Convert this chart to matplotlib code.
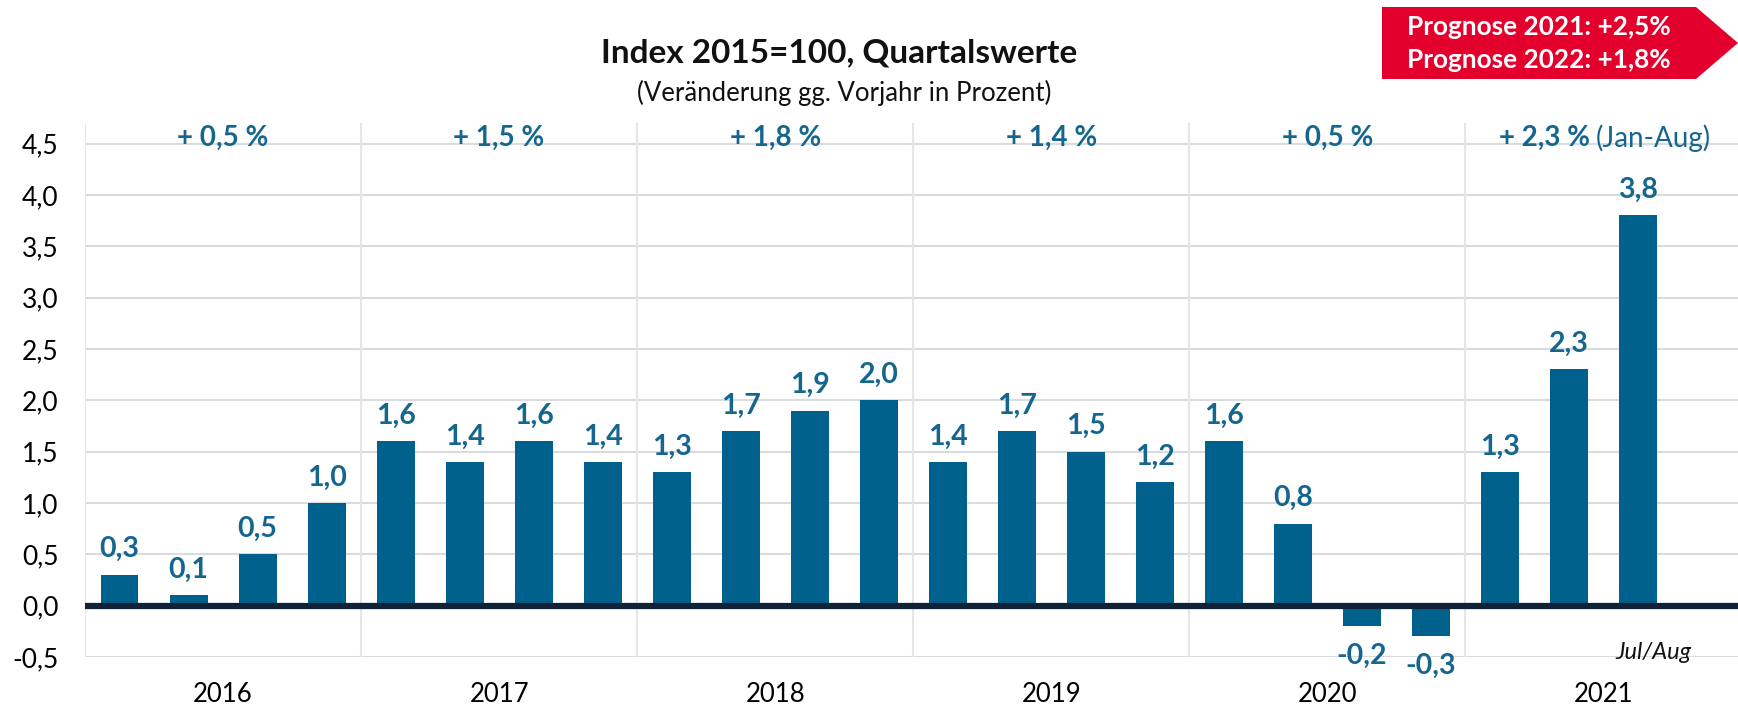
import matplotlib.pyplot as plt
from matplotlib.patches import Polygon
from matplotlib.transforms import offset_copy, blended_transform_factory
import numpy as np

plt.rcParams['font.family'] = ['Lato', 'DejaVu Sans']

# Daten
years = ['2016', '2017', '2018', '2019', '2020', '2021']
quarterly = [
    [0.3, 0.1, 0.5, 1.0],
    [1.6, 1.4, 1.6, 1.4],
    [1.3, 1.7, 1.9, 2.0],
    [1.4, 1.7, 1.5, 1.2],
    [1.6, 0.8, -0.2, -0.3],
    [1.3, 2.3, 3.8],
]
annual = ['+ 0,5 %', '+ 1,5 %', '+ 1,8 %', '+ 1,4 %', '+ 0,5 %', '+ 2,3 %']
annual_note = '(Jan-Aug)'
yticks = [-0.5, 0.0, 0.5, 1.0, 1.5, 2.0, 2.5, 3.0, 3.5, 4.0, 4.5]
forecast = ['Prognose 2021: +2,5%', 'Prognose 2022: +1,8%']

bar_color = '#00628c'
label_color = '#15668f'
grid_color = '#d9dcdf'


def fmt(v):
    return f'{v:.1f}'.replace('.', ',')


fig = plt.figure(figsize=(17.38, 7.07), dpi=100)
ax = fig.add_axes([85 / 1738, 1 - 657 / 707, 1 - 85 / 1738, (657 - 123) / 707])

# Balken
xs, vals = [], []
for yi, qs in enumerate(quarterly):
    for qi, v in enumerate(qs):
        xs.append(4 * yi + qi)
        vals.append(v)
bars = ax.bar(xs, vals, width=0.55, color=bar_color, zorder=3)

for x, v in zip(xs, vals):
    if v >= 0:
        ax.annotate(fmt(v), (x, v), xytext=(0, 9), textcoords='offset points',
                    ha='center', va='bottom', fontsize=20.5, fontweight='bold',
                    color=label_color)
    else:
        ax.annotate(fmt(v), (x, v), xytext=(0, -12), textcoords='offset points',
                    ha='center', va='top', fontsize=20.5, fontweight='bold',
                    color=label_color)

ax.set_xlim(-0.5, 23.45)
ax.set_ylim(-0.5, 4.7)

# Gitter
ax.set_yticks(yticks)
ax.set_yticklabels([fmt(t) for t in yticks])
for t in yticks:
    if t != 0:
        ax.axhline(t, color=grid_color, lw=1.5, zorder=1)
ax.axhline(0, color='#0f2238', lw=4.5, zorder=4)
for yi in range(len(years)):
    ax.axvline(4 * yi - 0.5, color='#e4e6e8', lw=1.5, zorder=1)

for s in ax.spines.values():
    s.set_visible(False)

ax.set_xticks([4 * i + 1.5 for i in range(len(years))])
ax.set_xticklabels(years)
ax.tick_params(axis='x', length=0, pad=18, labelsize=18.5)
ax.tick_params(axis='y', length=0, pad=19, labelsize=19)

# Jahreswerte oben
trans = blended_transform_factory(ax.transData, fig.transFigure)
y_ann = 1 - 138 / 707
for i, txt in enumerate(annual):
    xc = 4 * i + 1.5
    if i == len(annual) - 1:
        ax.text(xc, y_ann, txt, transform=offset_copy(trans, fig=fig, x=-13, units='dots'),
                ha='right', va='center', fontsize=20, fontweight='bold', color=label_color)
        ax.text(xc, y_ann, annual_note, transform=offset_copy(trans, fig=fig, x=-8, units='dots'),
                ha='left', va='center', fontsize=20, color=label_color)
    else:
        ax.text(xc, y_ann, txt, transform=trans, ha='center', va='center',
                fontsize=20, fontweight='bold', color=label_color)

ax.annotate('Jul/Aug', (22, -0.5), xytext=(11, 3), textcoords='offset points',
            ha='center', va='center', fontsize=17, fontstyle='italic', color='#111111')

# Titel
fig.text(839 / 1738, 1 - 53 / 707, 'Index 2015=100, Quartalswerte', ha='center', va='center',
         fontsize=24, fontweight='bold', color='#111111')
fig.text(844 / 1738, 1 - 93 / 707, '(Veränderung gg. Vorjahr in Prozent)', ha='center',
         va='center', fontsize=18.5, color='#111111')

# Prognose-Pfeil
W, H = 1738, 707
pts = [(1382, 7), (1696, 7), (1738, 43), (1696, 79), (1382, 79)]
arrow = Polygon([(x / W, 1 - y / H) for x, y in pts], closed=True,
                transform=fig.transFigure, facecolor='#e3002c', edgecolor='none')
fig.add_artist(arrow)
fig.text(1539 / W, 1 - 27 / H, forecast[0], ha='center', va='center', fontsize=18.8,
         fontweight='bold', color='white')
fig.text(1539 / W, 1 - 60 / H, forecast[1], ha='center', va='center', fontsize=18.8,
         fontweight='bold', color='white')

fig.savefig('out.png', dpi=100)
